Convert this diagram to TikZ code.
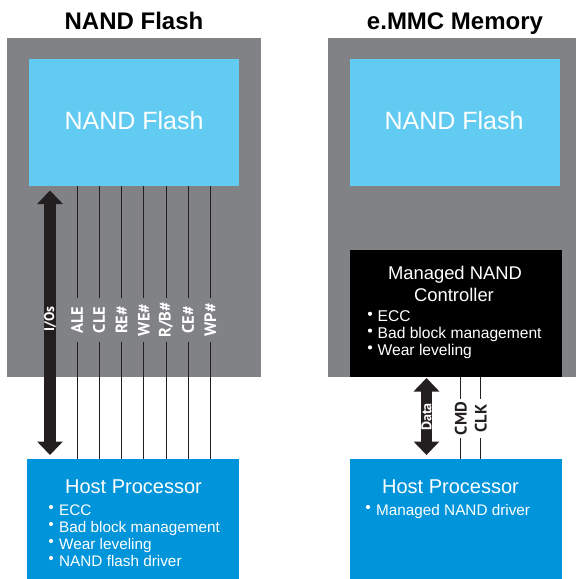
\documentclass[tikz,border=0pt]{standalone}
\usepackage{fontspec}
\setmainfont{Liberation Sans}
\newfontfamily\sigfont{PT Sans}
\usetikzlibrary{arrows.meta,calc}
\definecolor{boxgray}{HTML}{818286}
\definecolor{flashblue}{HTML}{62CBF1}
\definecolor{hostblue}{HTML}{0095DA}
\definecolor{wirecol}{HTML}{231F20}
\tikzset{
  region/.style={fill=boxgray, draw=none, inner sep=0pt, anchor=north west},
  flashbox/.style={fill=flashblue, draw=none, inner sep=0pt, anchor=north west, minimum width=210pt, minimum height=127pt},
  hostbox/.style={fill=hostblue, draw=none, inner sep=0pt, anchor=north west, minimum height=120pt},
  ctrlbox/.style={fill=black, draw=none, inner sep=0pt, anchor=north west, minimum width=212pt, minimum height=127pt},
  title/.style={anchor=base, inner sep=0pt, font=\fontsize{24}{28}\selectfont\bfseries},
  flashtext/.style={anchor=base, inner sep=0pt, text=white, font=\fontsize{25}{30}\selectfont},
  hosttitle/.style={anchor=base, inner sep=0pt, text=white, font=\fontsize{20}{24}\selectfont},
  item/.style={anchor=base west, inner sep=0pt, text=white, font=\fontsize{15.3}{18}\selectfont},
  dot/.style={fill=white, draw=none},
  wire/.style={draw=wirecol, line width=0.9pt},
  sig/.style={rotate=90, inner sep=0pt, minimum width=43pt, text=white, font=\sigfont\fontsize{16.5}{20}\selectfont\bfseries},
  sigdark/.style={sig, minimum width=39pt, text=wirecol},
  bigarrow/.style={draw=wirecol, line cap=butt, {Triangle[width=25pt,length=13.5pt]}-{Triangle[width=25pt,length=13.5pt]}},
  arrowlabel/.style={rotate=90, inner sep=0pt, text=white, font=\sigfont\fontsize{14}{16}\selectfont\bfseries},
}
\begin{document}
\begin{tikzpicture}[x=1pt,y=-1pt]
\useasboundingbox (0,0) rectangle (576,579);
% ---- titles
\node[title] (tL) at (134,29) {NAND Flash};
\node[title] (tR) at (455,29) {e.MMC Memory};
% ---- left: raw NAND
\node[region, minimum width=254pt, minimum height=339pt] (grayL) at (7,38) {};
\node[flashbox] (flashL) at (29,59) {};
\node[flashtext] (flashLt) at (134,129) {NAND Flash};
\node[hostbox, minimum width=212pt] (hostL) at (27,459) {};
\node[hosttitle] (hostLt) at (133.5,493) {Host Processor};
\foreach \t [count=\i] in {ECC,Bad block management,Wear leveling,NAND flash driver}{
  \node[item] (hl\i) at (59,498+17*\i) {\t};
  \fill[dot] ($(hl\i.base west)+(-8,-8)$) circle (2.1pt);
}
% I/Os arrow
\coordinate (iosT) at (50,190.5);
\coordinate (iosB) at (50,455);
\draw[bigarrow, line width=12.7pt] (iosT) -- (iosB);
\node[arrowlabel] (iosl) at (50,319) {I/Os};
% control signals
\foreach \t/\x [count=\i] in {{ALE}/77,{CLE}/99.2,{RE\#}/121.5,{WE\#}/143.8,{R/B\#}/166,{CE\#}/188.2,{WP\#}/210.4}{
  \node[sig] (s\i) at (\x,320) {\t};
  \draw[wire] (\x,186) -- (s\i.east);
  \draw[wire] (s\i.west) -- (\x,459);
}
% ---- right: e.MMC
\node[region, minimum width=248pt, minimum height=339pt] (grayR) at (328,38) {};
\node[flashbox] (flashR) at (350,59) {};
\node[flashtext] (flashRt) at (454,129) {NAND Flash};
\node[ctrlbox] (ctrl) at (350,250) {};
\node[hosttitle, font=\fontsize{18.4}{22}\selectfont] (ctrl1) at (455,279.5) {Managed NAND};
\node[hosttitle, font=\fontsize{18.4}{22}\selectfont] (ctrl2) at (454,301.5) {Controller};
\foreach \t [count=\i] in {ECC,Bad block management,Wear leveling}{
  \node[item, font=\fontsize{15.6}{18}\selectfont] (ci\i) at (377.5,305+16.8*\i) {\t};
  \fill[dot] ($(ci\i.base west)+(-7.5,-8)$) circle (2.1pt);
}
\node[hostbox, minimum width=212pt] (hostR) at (350,459) {};
\node[hosttitle] (hostRt) at (450.5,493) {Host Processor};
\node[item] (hr1) at (376,515) {Managed NAND driver};
\fill[dot] ($(hr1.base west)+(-8,-8)$) circle (2.1pt);
% Data arrow
\coordinate (dataT) at (426.5,378);
\coordinate (dataB) at (426.5,455);
\draw[bigarrow, line width=11.5pt] (dataT) -- (dataB);
\node[arrowlabel] (datal) at (426.5,417) {Data};
% CMD / CLK
\foreach \t/\x [count=\i] in {CMD/460.8,CLK/480.8}{
  \node[sigdark] (c\i) at (\x,418.5) {\t};
  \draw[wire] (\x,377) -- (c\i.east);
  \draw[wire] (c\i.west) -- (\x,459);
}
\end{tikzpicture}
\end{document}
